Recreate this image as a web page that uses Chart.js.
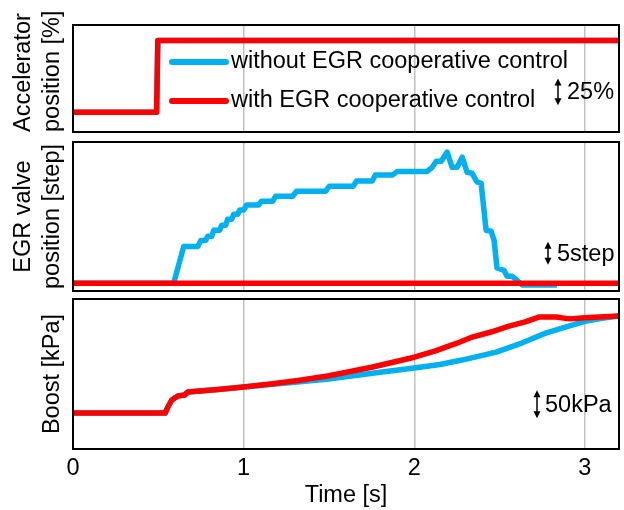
<!DOCTYPE html>
<html><head><meta charset="utf-8">
<script src="https://cdn.jsdelivr.net/npm/chart.js@4/dist/chart.umd.min.js"></script>
<style>
html,body{margin:0;padding:0;background:#fff;}
#wrap{position:relative;width:624px;height:510px;overflow:hidden;background:#fff;}
canvas{position:absolute;left:0;}
</style></head><body>
<div id="wrap">
<canvas id="c1" width="624" height="140" style="top:0px"></canvas>
<canvas id="c2" width="624" height="160" style="top:136px"></canvas>
<canvas id="c3" width="624" height="215" style="top:295px"></canvas>
</div>
<script>
// ---------- data ----------
const seriesLabels = ['without EGR cooperative control', 'with EGR cooperative control'];
const xTicks = [0, 1, 2, 3];

// Accelerator position [%]
const accelTime = [0, 0.49, 0.497, 3.2];
const accelWithout = [18.5, 18.5, 85.5, 85.5];
const accelWith = [18.5, 18.5, 85.5, 85.5];

// EGR valve position [step]
const egrTimeWithout = [0, 0.59, 0.649, 0.731, 0.749, 0.778, 0.789, 0.813, 0.825, 0.860, 0.871, 0.895, 0.906, 0.930, 0.942, 0.965, 0.977, 1.0, 1.018, 1.088, 1.105, 1.170, 1.187, 1.287, 1.310, 1.480, 1.503, 1.643, 1.661, 1.754, 1.772, 1.871, 1.901, 2.076, 2.105, 2.129, 2.158, 2.193, 2.222, 2.251, 2.281, 2.310, 2.339, 2.368, 2.392, 2.421, 2.450, 2.468, 2.485, 2.526, 2.544, 2.573, 2.602, 2.632, 2.836];
const egrWithout = [0, 0, 8.0, 8.0, 9.3, 9.3, 10.2, 10.2, 11.5, 11.5, 12.6, 12.6, 13.9, 13.9, 15.0, 15.0, 15.9, 15.9, 17.0, 17.0, 17.8, 17.8, 18.9, 18.9, 20.0, 20.0, 21.1, 21.1, 22.2, 22.2, 23.5, 23.5, 24.3, 24.3, 25.2, 26.5, 26.5, 28.5, 25.2, 25.2, 27.4, 24.1, 23.9, 22.0, 21.7, 11.5, 11.3, 9.3, 3.3, 2.8, 1.5, 1.5, 0.65, -0.4, -0.4];
const egrTimeWith = [0, 3.2];
const egrWith = [0, 0];

// Boost [kPa]
const boostTimeWithout = [0, 0.54, 0.556, 0.579, 0.614, 0.655, 0.673, 0.743, 0.85, 1.0, 1.17, 1.33, 1.5, 1.62, 1.8, 2.0, 2.15, 2.28, 2.48, 2.63, 2.77, 2.9, 3.0, 3.1, 3.2];
const boostWithout = [64.3, 64.3, 75, 87.5, 94.6, 96.4, 101.8, 103.6, 106.5, 110.7, 115.5, 120, 125, 130, 137, 144.6, 151, 158.9, 173.2, 189.3, 207, 219, 228, 233.5, 237.5];
const boostTimeWith = [0, 0.54, 0.556, 0.579, 0.614, 0.655, 0.673, 0.743, 0.85, 1.0, 1.17, 1.33, 1.5, 1.75, 2.0, 2.12, 2.25, 2.34, 2.45, 2.55, 2.65, 2.73, 2.83, 2.91, 3.0, 3.2];
const boostWith = [64.3, 64.3, 75, 87.5, 94.6, 96.4, 101.8, 103.6, 106.5, 110.7, 116.5, 123, 131, 146, 164, 175, 189, 200, 209, 219, 227, 235.7, 235.7, 232.5, 234.5, 237.5];

// ---------- styling ----------
const BLUE = '#00b0f0';
const RED = '#ff0000';
const FONT = "'Liberation Sans', Arial, sans-serif";
const FS = 23.5;
Chart.defaults.font.family = FONT;
Chart.defaults.color = '#000';

const pts = (ts, vs) => ts.map((t, i) => ({x: t, y: vs[i]}));

const framePlugin = {
  id: 'frame',
  afterDraw(chart) {
    const {ctx, chartArea: a} = chart;
    ctx.save();
    ctx.strokeStyle = '#000';
    ctx.lineWidth = 2;
    ctx.strokeRect(a.left, a.top, a.right - a.left, a.bottom - a.top);
    ctx.restore();
  }
};

const scaleNotePlugin = {
  id: 'scaleNote',
  afterDraw(chart, args, opts) {
    if (!opts || !opts.text) return;
    const {ctx, chartArea} = chart;
    const ys = chart.scales.y;
    const yb = ys.getPixelForValue(opts.from), yt = ys.getPixelForValue(opts.to);
    const x = chartArea.right - opts.dx;
    ctx.save();
    ctx.strokeStyle = '#000'; ctx.fillStyle = '#000'; ctx.lineWidth = 1.5;
    ctx.beginPath(); ctx.moveTo(x, yt + 5); ctx.lineTo(x, yb - 5); ctx.stroke();
    ctx.beginPath(); ctx.moveTo(x, yt); ctx.lineTo(x - 3.5, yt + 7); ctx.lineTo(x + 3.5, yt + 7); ctx.closePath(); ctx.fill();
    ctx.beginPath(); ctx.moveTo(x, yb); ctx.lineTo(x - 3.5, yb - 7); ctx.lineTo(x + 3.5, yb - 7); ctx.closePath(); ctx.fill();
    ctx.font = FS + 'px ' + FONT;
    ctx.textBaseline = 'middle'; ctx.textAlign = 'left';
    ctx.fillText(opts.text, x + opts.gap, (yt + yb) / 2 + 1);
    ctx.restore();
  }
};

const insideLegendPlugin = {
  id: 'insideLegend',
  afterDraw(chart, args, opts) {
    if (!opts || !opts.show) return;
    const {ctx, chartArea} = chart;
    const x0 = chartArea.left + opts.dx;
    ctx.save();
    ctx.font = FS + 'px ' + FONT;
    ctx.textBaseline = 'middle'; ctx.textAlign = 'left';
    chart.data.datasets.forEach((ds, i) => {
      const y = opts.y0 + i * opts.rowGap;
      ctx.strokeStyle = ds.borderColor; ctx.lineWidth = 6; ctx.lineCap = 'round';
      ctx.beginPath(); ctx.moveTo(x0, y); ctx.lineTo(x0 + opts.sample, y); ctx.stroke();
      ctx.fillStyle = '#000';
      ctx.fillText(ds.label, x0 + opts.sample + 5, y);
    });
    ctx.restore();
  }
};

function makeChart(id, cfg) {
  const isBottom = !!cfg.bottom;
  return new Chart(document.getElementById(id), {
    type: 'line',
    data: {
      datasets: [
        {label: seriesLabels[0], data: cfg.without, borderColor: BLUE, backgroundColor: BLUE, borderWidth: 5.5, order: 1},
        {label: seriesLabels[1], data: cfg.with, borderColor: RED, backgroundColor: RED, borderWidth: 5.5, order: 0}
      ]
    },
    options: {
      responsive: false,
      animation: false,
      events: [],
      layout: {padding: {top: cfg.padTop, bottom: cfg.padBottom, left: 0, right: 5}},
      elements: {point: {radius: 0}, line: {tension: 0, borderJoinStyle: 'round', borderCapStyle: 'butt'}},
      plugins: {
        legend: {display: false},
        tooltip: {enabled: false},
        scaleNote: cfg.note,
        insideLegend: cfg.legend || {show: false}
      },
      scales: {
        x: {
          type: 'linear', min: 0, max: 3.2,
          afterBuildTicks: s => { s.ticks = xTicks.map(v => ({value: v})); },
          afterFit: s => { s.height = isBottom ? 61 : 0; },
          grid: {color: '#c0c0c0', lineWidth: 1.5, drawTicks: false},
          border: {display: false},
          ticks: {display: isBottom, padding: 5, font: {size: FS}, color: '#000', maxRotation: 0},
          title: {display: isBottom, text: 'Time [s]', font: {size: FS}, color: '#000', padding: {top: 0, bottom: 0}}
        },
        y: {
          min: cfg.ymin, max: cfg.ymax,
          afterFit: s => { s.width = 73; },
          grid: {display: false},
          border: {display: false},
          ticks: {display: false},
          title: {display: true, text: cfg.title, align: cfg.titleAlign || 'center', color: '#000',
                  font: {size: FS, lineHeight: 29 / FS}, padding: {top: cfg.titlePad, bottom: 0}}
        }
      }
    },
    plugins: [framePlugin, scaleNotePlugin, insideLegendPlugin]
  });
}

makeChart('c1', {
  without: pts(accelTime, accelWithout), with: pts(accelTime, accelWith),
  ymin: 0, ymax: 100, padTop: 25, padBottom: 8,
  title: ['Accelerator', 'position [%]'], titleAlign: 'start', titlePad: 9.5,
  note: {text: '25%', from: 25, to: 50, dx: 61, gap: 9},
  legend: {show: true, dx: 99, sample: 54, y0: 62, rowGap: 39}
});
makeChart('c2', {
  without: pts(egrTimeWithout, egrWithout), with: pts(egrTimeWith, egrWith),
  ymin: -1.7, ymax: 30.7, padTop: 6, padBottom: 5,
  title: ['EGR valve', 'position [step]'], titlePad: 9.5,
  note: {text: '5step', from: 4, to: 9, dx: 71, gap: 9}
});
makeChart('c3', {
  without: pts(boostTimeWithout, boostWithout), with: pts(boostTimeWith, boostWith),
  ymin: 0, ymax: 268, padTop: 4, padBottom: 0, bottom: true,
  title: 'Boost [kPa]', titlePad: 38.5,
  note: {text: '50kPa', from: 55, to: 105, dx: 82, gap: 8}
});
</script>
</body></html>
